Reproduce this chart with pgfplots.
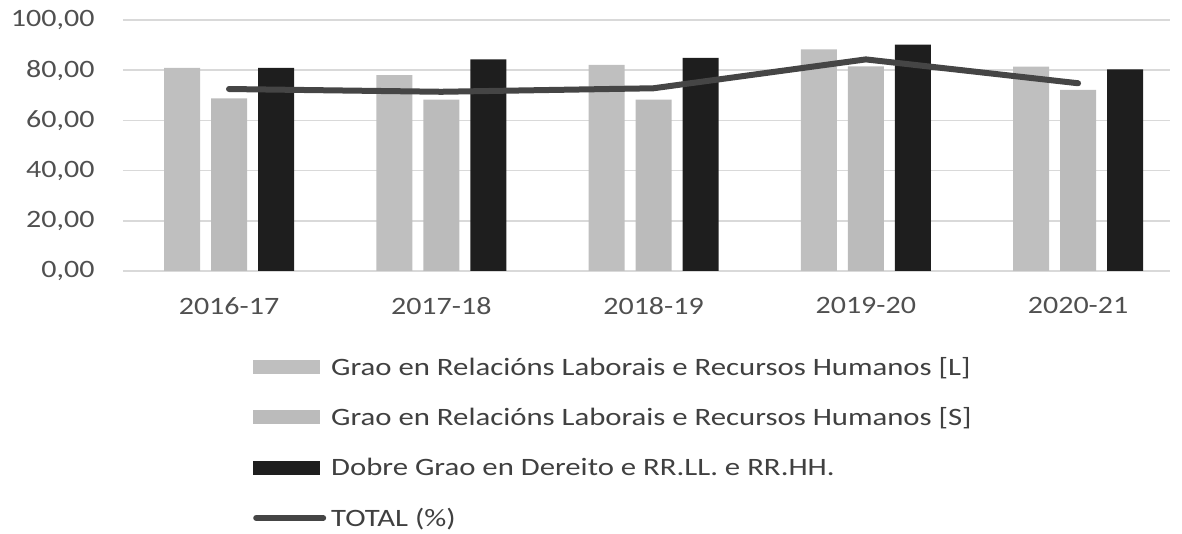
\documentclass[border=0pt]{standalone}
\usepackage{pgfplots}
\pgfplotsset{compat=1.18}
\usepackage{fontspec}
\setmainfont{Carlito}[FakeStretch=1.2]
\newfontfamily\legfont{Carlito}[FakeStretch=1.23]
\definecolor{txt}{HTML}{404040}
\definecolor{tick}{HTML}{505050}
\definecolor{barL}{HTML}{BFBFBF}
\definecolor{barS}{HTML}{BBBBBB}
\definecolor{barD}{HTML}{1E1E1E}
\definecolor{lineT}{HTML}{454545}
\definecolor{grid}{HTML}{D9D9D9}
\begin{document}
\begin{tikzpicture}[x=1pt,y=1pt]
\useasboundingbox (-123,-263) rectangle (1059,271);
\begin{axis}[
  at={(0,0)}, anchor=south west,
  scale only axis, width=1047pt, height=251pt,
  xmin=-0.4994, xmax=4.433, ymin=0, ymax=100,
  xtick={0,1,2,3,4},
  xticklabels={2016-17,2017-18,2018-19,2019-20,2020-21},
  ytick={0,20,40,60,80,100},
  ymajorgrids, grid style={color=grid, line width=1.6pt},
  axis line style={draw=none},
  major tick length=0pt,
  tick label style={font=\fontsize{25}{29}\selectfont, text=tick},
  /pgf/number format/assume math mode=true,
  /pgf/number format/fixed, /pgf/number format/fixed zerofill,
  /pgf/number format/precision=2, /pgf/number format/use comma,
  xticklabel style={yshift=-23pt},
  yticklabel style={xshift=-25pt},
  legend cell align=left,
  legend style={at={(0.1213,-0.33)}, anchor=north west, draw=none, fill=none,
    font=\legfont\fontsize{25}{29}\selectfont, text=txt, row sep=29pt,
    nodes={inner sep=1pt},
    /tikz/every odd column/.append style={column sep=4pt}},
]
\addplot[ybar, bar width=36pt, bar shift=-47pt, fill=barL, draw=none,
  legend image code/.code={\fill[barL] (0pt,-7pt) rectangle (67pt,7pt);}]
  coordinates {(0,80.9) (1,78.0) (2,82.1) (3,88.3) (4,81.4)};
\addlegendentry{Grao en Relacións Laborais e Recursos Humanos [L]}
\addplot[ybar, bar width=36pt, bar shift=0pt, fill=barS, draw=none,
  legend image code/.code={\fill[barS] (0pt,-7pt) rectangle (67pt,7pt);}]
  coordinates {(0,68.8) (1,68.3) (2,68.3) (3,81.5) (4,72.2)};
\addlegendentry{Grao en Relacións Laborais e Recursos Humanos [S]}
\addplot[ybar, bar width=36pt, bar shift=47pt, fill=barD, draw=none,
  legend image code/.code={\fill[barD] (0pt,-7pt) rectangle (67pt,7pt);}]
  coordinates {(0,80.9) (1,84.3) (2,84.9) (3,90.2) (4,80.3)};
\addlegendentry{Dobre Grao en Dereito e RR.LL. e RR.HH.}
\addplot[color=lineT, line width=6pt, line cap=round, line join=round,
  legend image code/.code={\draw[lineT, line width=6pt, line cap=round] (3pt,0pt) -- (70pt,0pt);}]
  coordinates {(0,72.5) (1,71.4) (2,72.8) (3,84.3) (4,74.8)};
\addlegendentry{TOTAL (\%)}
\end{axis}
\end{tikzpicture}
\end{document}
